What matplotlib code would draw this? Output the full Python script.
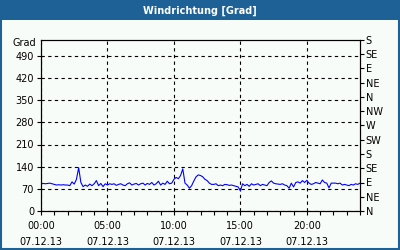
import numpy as np
import matplotlib.pyplot as plt
from matplotlib.patches import Rectangle

# Windrichtung in Grad, alle 10 Minuten (07.12.13, 00:00 - 24:00)
richtung = [
    86, 87, 86, 87, 88, 86,
    84, 82, 83, 82, 83, 82,
    82, 80, 92, 85, 100, 137,
    90, 77, 82, 78, 85, 80,
    86, 96, 80, 87, 77, 86,
    82, 86, 84, 86, 81, 84,
    86, 82, 80, 86, 89, 82,
    85, 87, 82, 86, 88, 82,
    87, 84, 90, 82, 86, 94,
    82, 88, 84, 94, 86, 88,
    100, 106, 102, 112, 133, 88,
    82, 72, 80, 95, 108, 114,
    112, 108, 100, 96, 88, 84,
    84, 86, 80, 82, 80, 84,
    83, 81, 82, 80, 78, 76,
    64, 86, 80, 84, 78, 86,
    82, 84, 86, 80, 84, 82,
    80, 90, 95, 88, 86, 85,
    84, 86, 82, 80, 72, 88,
    76, 90, 92, 88, 96, 90,
    97, 88, 84, 86, 90, 88,
    86, 98, 90, 88, 73, 88,
    88, 88, 86, 88, 82, 84,
    82, 80, 84, 82, 86, 84,
    88,
]
stunden = np.arange(len(richtung)) / 6.0

grad_ticks = [0, 70, 140, 210, 280, 350, 420, 490]
zeit_ticks = [0, 5, 10, 15, 20]
zeit_labels = ["00:00\n07.12.13", "05:00\n07.12.13", "10:00\n07.12.13",
               "15:00\n07.12.13", "20:00\n07.12.13"]
kompass_ticks = list(range(0, 541, 45))
kompass_labels = ["N", "NE", "E", "SE", "S", "SW", "W", "NW",
                  "N", "NE", "E", "SE", "S"]

blau = "#1d6196"
hintergrund = "#f8fcf8"

plt.rcParams['font.family'] = ['DejaVu Sans']

fig = plt.figure(figsize=(4, 2.5), dpi=100, facecolor=hintergrund)

# Titelleiste und Rahmen
fig.patches.append(Rectangle((0, 0.92), 1, 0.08, transform=fig.transFigure,
                             facecolor=blau, edgecolor="none", zorder=0))
fig.patches.append(Rectangle((0.0025, 0.004), 0.995, 0.99, transform=fig.transFigure,
                             facecolor="none", edgecolor=blau, linewidth=1.5, zorder=5))
fig.text(0.5, 0.958, "Windrichtung [Grad]", color="white", fontsize=7,
         fontweight="bold", ha="center", va="center")

ax = fig.add_axes([0.1025, 0.156, 0.7975, 0.684])
ax.set_facecolor(hintergrund)
ax.plot(stunden, richtung, color="#0000ff", linewidth=0.8)

ax.set_xlim(0, 24)
ax.set_ylim(0, 540)
ax.set_yticks(grad_ticks)
ax.set_xticks(zeit_ticks)
ax.set_xticklabels(zeit_labels, linespacing=1.75)
ax.set_xticks(range(0, 25), minor=True)
ax.tick_params(axis="both", which="both", labelsize=7, length=3, width=0.8,
               direction="out", color="black", pad=2)
ax.tick_params(axis="x", pad=4)
ax.grid(True, which="major", color="black", linestyle=(0, (3, 3)), linewidth=0.8)
for s in ax.spines.values():
    s.set_linewidth(0.8)

ax.text(-0.015, 0.985, "Grad", transform=ax.transAxes, ha="right", va="center",
        fontsize=7)

ax2 = ax.twinx()
ax2.set_ylim(0, 540)
ax2.set_yticks(kompass_ticks)
ax2.set_yticklabels(kompass_labels)
ax2.tick_params(axis="y", labelsize=7, length=3, width=0.8, direction="out", pad=1)
for s in ax2.spines.values():
    s.set_linewidth(0.8)

fig.savefig("out.png", dpi=100, facecolor=hintergrund)
